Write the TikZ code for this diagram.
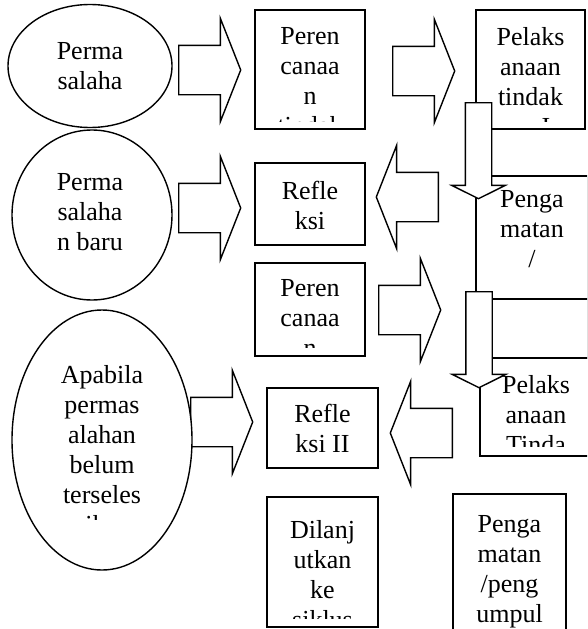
\documentclass[tikz,border=0pt]{standalone}
\usepackage{fontspec}
\setmainfont{Liberation Serif}
\usetikzlibrary{shapes.geometric,shapes.arrows}

\tikzset{
  shp/.style={draw, line width=1.4pt, fill=white, inner sep=0pt},
  box/.style={shp, rectangle},
  oval/.style={shp, ellipse},
  txt/.style={inner sep=0pt, anchor=north, align=center,
    font=\fontsize{26}{30}\selectfont},
  rarrow/.style={shp, single arrow, anchor=tail, inner xsep=0pt, inner ysep=24pt,
    minimum height=62pt, single arrow head extend=27pt, single arrow tip angle=137},
  larrow/.style={rarrow, shape border rotate=180},
  darrow/.style={shp, single arrow, anchor=tail, shape border rotate=270, inner sep=12.5pt,
    minimum height=96pt, single arrow head extend=13.5pt, single arrow tip angle=127}
}

\begin{document}
\begin{tikzpicture}[x=1pt, y=-1pt]
 \useasboundingbox (0,0) rectangle (587,629);
 \clip (0,0) rectangle (587,629);
 \fill[white] (0,0) rectangle (587,629);

 % block arrows between the shapes
 \node[rarrow] (a1) at (178,70) {};
 \node[rarrow] (a2) at (392,71) {};
 \node[rarrow] (a3) at (178,208) {};
 \node[larrow] (a5) at (439,197) {};
 \node[rarrow] (a6) at (378,310) {};
 \node[rarrow] (a8) at (190,422) {};
 \node[larrow] (a9) at (453,433) {};

 % left column
 \node[oval, minimum width=164pt, minimum height=123pt] (masalah) at (90,66) {};
 \begin{scope}
  \clip (0,0) rectangle (180,104);
  \node[txt] (masalah-t) at (90,42) {Perma\\salaha};
 \end{scope}
 \node[oval, minimum width=160pt, minimum height=170pt] (baru) at (92,215) {};
 \begin{scope}
  \clip (0,130) rectangle (180,258);
  \node[txt] (baru-t) at (90,173) {Perma\\salaha\\n baru};
 \end{scope}
 \node[oval, minimum width=180pt, minimum height=260pt] (belum) at (102,440) {};
 \begin{scope}
  \clip (0,310) rectangle (200,519);
  \node[txt] (belum-t) at (102,365) {Apabila\\permas\\alahan\\belum\\terseles\\aikan};
 \end{scope}

 % middle column
 \node[box, minimum width=110pt, minimum height=119pt] (rencana) at (310,69.5) {};
 \begin{scope}
  \clip (255,10) rectangle (365,121);
  \node[txt] (rencana-t) at (310,27) {Peren\\canaa\\n\\tindak};
 \end{scope}
 \node[box, minimum width=110pt, minimum height=82pt] (refleksi) at (310,204) {};
 \node[txt] (refleksi-t) at (310,181) {Refle\\ksi};
 \node[box, minimum width=110pt, minimum height=93pt] (rencana2) at (310,309.5) {};
 \begin{scope}
  \clip (255,263) rectangle (365,347);
  \node[txt] (rencana2-t) at (310,279) {Peren\\canaa\\n};
 \end{scope}
 \node[box, minimum width=111pt, minimum height=80pt] (refleksi2) at (322.5,428) {};
 \node[txt] (refleksi2-t) at (322.5,404) {Refle\\ksi II};
 \node[box, minimum width=111pt, minimum height=130pt] (lanjut) at (322.5,562) {};
 \begin{scope}
  \clip (267,497) rectangle (378,618);
  \node[txt] (lanjut-t) at (322.5,520) {Dilanj\\utkan\\ke\\siklus};
 \end{scope}

 % right column
 \node[box, minimum width=109pt, minimum height=119pt] (laksana) at (530.5,69.5) {};
 \begin{scope}
  \clip (476,10) rectangle (585,121);
  \node[txt] (laksana-t) at (530.5,27) {Pelaks\\anaan\\tindak\\an I};
 \end{scope}
 \node[box, minimum width=112pt, minimum height=123pt] (amat) at (532,237.5) {};
 \begin{scope}
  \clip (476,176) rectangle (588,279);
  \node[txt] (amat-t) at (532,190) {Penga\\matan\\/};
 \end{scope}
 \node[box, minimum width=112pt, minimum height=59pt] (kosong) at (532,328.5) {};
 \node[box, minimum width=112pt, minimum height=98pt] (laksana2) at (536,407) {};
 \begin{scope}
  \clip (480,358) rectangle (592,446);
  \node[txt] (laksana2-t) at (536,375) {Pelaks\\anaan\\Tinda};
 \end{scope}
 \node[box, minimum width=113pt, minimum height=170pt] (amat2) at (509.5,579) {};
 \node[txt] (amat2-t) at (509.5,515) {Penga\\matan\\/peng\\umpul};

 % downward arrows on top
 \node[darrow] (a4) at (478.5,102) {};
 \node[darrow] (a7) at (479,291) {};
\end{tikzpicture}
\end{document}
